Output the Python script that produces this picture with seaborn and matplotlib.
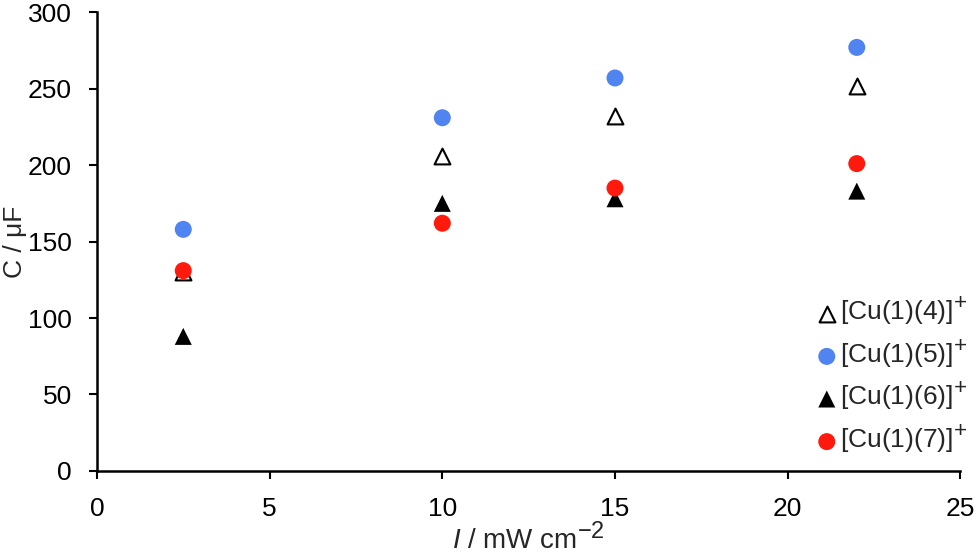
import matplotlib
matplotlib.use("Agg")
import matplotlib.pyplot as plt
import matplotlib._mathtext as mtext
import pandas as pd
import seaborn as sns

# light intensity values (mW cm-2)
intensity = [2.5, 10, 15, 22]

# capacitance values (uF)
cu4 = [130, 206, 232, 252]
cu5 = [158, 231, 257, 277]
cu6 = [88, 175, 178, 183]
cu7 = [131, 162, 185, 201]

labels = [r'[Cu(1)(4)]$^{+}$', r'[Cu(1)(5)]$^{+}$',
          r'[Cu(1)(6)]$^{+}$', r'[Cu(1)(7)]$^{+}$']

sns.set_style("ticks")
plt.rcParams['font.family'] = ['Liberation Sans', 'DejaVu Sans']
plt.rcParams['mathtext.fontset'] = 'custom'
plt.rcParams['mathtext.rm'] = 'Liberation Sans'
plt.rcParams['mathtext.it'] = 'Liberation Sans:italic'
plt.rcParams['mathtext.default'] = 'regular'
# superscripts in the original are drawn fairly large
mtext.SHRINK_FACTOR = 0.85

fig, ax = plt.subplots(figsize=(9.79, 5.56), dpi=100)
fig.subplots_adjust(left=0.099, right=0.981, top=0.978, bottom=0.153)

# open triangle drawn first so it sits under the red circle at 2.5
sns.scatterplot(x=intensity, y=cu4, marker='^', s=130, facecolor='white',
                edgecolor='black', linewidth=1.5, label=labels[0], ax=ax, zorder=3)
sns.scatterplot(x=intensity, y=cu5, marker='o', s=150, color='#5084F0',
                edgecolor='none', label=labels[1], ax=ax, zorder=3)
sns.scatterplot(x=intensity, y=cu6, marker='^', s=150, color='black',
                edgecolor='none', label=labels[2], ax=ax, zorder=3)
sns.scatterplot(x=intensity, y=cu7, marker='o', s=150, color='#FF1A0D',
                edgecolor='none', label=labels[3], ax=ax, zorder=4)

ax.set_xlim(0, 25)
ax.set_ylim(0, 300)
ax.set_xticks([0, 5, 10, 15, 20, 25])
ax.set_yticks(range(0, 301, 50))
ax.tick_params(labelsize=19, width=1.5, length=6, direction='out', colors='black')
ax.tick_params(axis='y', pad=12)
ax.tick_params(axis='x', pad=13)
for side in ['left', 'bottom']:
    ax.spines[side].set_linewidth(1.8)
    ax.spines[side].set_color('black')
sns.despine(ax=ax)

ax.set_xlabel(r'$\mathit{I}$ / mW cm$^{-2}$', fontsize=20, labelpad=1)
ax.set_ylabel('C / μF', fontsize=19, labelpad=1)

ax.legend(loc='lower right', bbox_to_anchor=(1.02, 0.01), frameon=False,
          fontsize=19, handletextpad=0.0, labelspacing=0.4,
          handlelength=1.0, borderaxespad=0)

fig.savefig('out.png', dpi=100)
